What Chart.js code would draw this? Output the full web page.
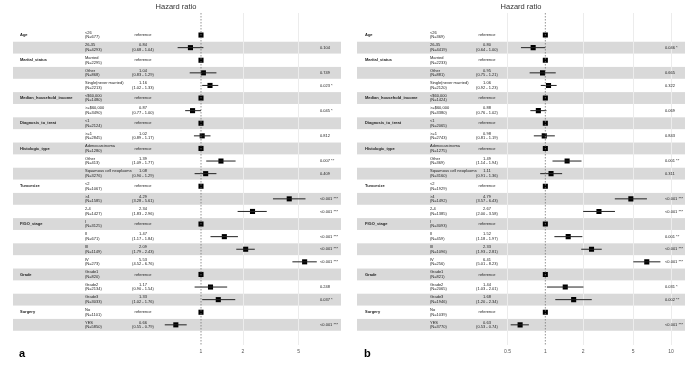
<!DOCTYPE html>
<html>
<head>
<meta charset="utf-8">
<script src="https://cdn.jsdelivr.net/npm/chart.js@4.4.0/dist/chart.umd.min.js"></script>
<style>
body { margin: 0; background: #fff; }
canvas { position: absolute; top: 0; }
</style>
</head>
<body>
<canvas id="chartA" width="342" height="366" style="left:0px"></canvas>
<canvas id="chartB" width="343" height="366" style="left:342px"></canvas>
<script>
// rows of the forest plot
const variables = ['Age', '', 'Marital_status', '', '', 'Median_household_income', '', 'Diagnosis_to_treat', '',
  'Histologic_type', '', '', 'Tumorsize', '', '', 'FIGO_stage', '', '', '', 'Grade', '', '', 'Surgery', ''];
const categories = ['<26', '26-35', 'Married', 'Other', 'Single(never married)', '<$60,000', '>=$60,000', '<1', '>=1',
  'Adenocarcinoma', 'Other', 'Squamous cell neoplasms', '<2', '>4', '2-4', 'I', 'II', 'III', 'IV',
  'Grade1', 'Grade2', 'Grade3', 'No', 'YES'];

// panel a
const countsA = [677, 4293, 2295, 868, 2213, 1480, 3490, 2124, 2845, 1280, 413, 3276, 1067, 1585, 1427,
  3125, 671, 1149, 273, 820, 2134, 3033, 1101, 5850];
const hrA = [1, 0.84, 1, 1.04, 1.16, 1, 0.87, 1, 1.02, 1, 1.39, 1.08, 1, 4.29, 2.34, 1, 1.47, 2.09, 5.53, 1, 1.17, 1.33, 1, 0.66];
const lowA = [null, 0.68, null, 0.83, 1.02, null, 0.77, null, 0.89, null, 1.09, 0.90, null, 3.28, 1.83,
  null, 1.17, 1.79, 4.52, null, 0.90, 1.02, null, 0.55];
const highA = [null, 1.04, null, 1.29, 1.33, null, 1.00, null, 1.17, null, 1.77, 1.29, null, 5.61, 2.96,
  null, 1.84, 2.43, 6.76, null, 1.54, 1.76, null, 0.79];
const pA = ['', '0.104', '', '0.749', '0.023 *', '', '0.045 *', '', '0.812', '', '0.007 **', '0.409', '', '<0.001 ***', '<0.001 ***',
  '', '<0.001 ***', '<0.001 ***', '<0.001 ***', '', '0.248', '0.037 *', '', '<0.001 ***'];
const ticksA = [1, 2, 5];

// panel b
const countsB = [369, 4419, 2233, 881, 2120, 1424, 3380, 2065, 2743, 1275, 369, 3160, 1929, 1492, 1385,
  3093, 459, 1096, 256, 821, 2065, 1946, 1039, 3770];
const hrB = [1, 0.80, 1, 0.95, 1.06, 1, 0.88, 1, 0.98, 1, 1.49, 1.11, 1, 4.79, 2.67, 1, 1.52, 2.33, 6.41, 1, 1.44, 1.68, 1, 0.63];
const lowB = [null, 0.64, null, 0.75, 0.92, null, 0.76, null, 0.81, null, 1.14, 0.91, null, 3.57, 2.00,
  null, 1.18, 1.93, 5.01, null, 1.03, 1.20, null, 0.53];
const highB = [null, 1.00, null, 1.21, 1.23, null, 1.02, null, 1.19, null, 1.94, 1.36, null, 6.43, 3.58,
  null, 1.97, 2.81, 8.23, null, 2.01, 2.34, null, 0.74];
const pB = ['', '0.046 *', '', '0.665', '0.322', '', '0.069', '', '0.843', '', '0.001 **', '0.311', '', '<0.001 ***', '<0.001 ***',
  '', '0.001 **', '<0.001 ***', '<0.001 ***', '', '0.031 *', '0.002 **', '', '<0.001 ***'];
const ticksB = [0.5, 1, 2, 5, 10];

const FONT = '"Liberation Sans Narrow", "Liberation Sans", Arial, sans-serif';
const Y_MIN = -1.75, Y_MAX = 24.6;

function fmt(v) { return v.toFixed(2); }

function makePanel(id, s) {
  const rows = categories.length;
  // whisker segments, broken by empty points
  const whiskers = [];
  for (let i = 0; i < rows; i++) {
    if (s.low[i] == null) continue;
    whiskers.push({ x: s.low[i], y: i }, { x: s.high[i], y: i }, { x: null, y: null });
  }
  const boxes = s.hr.map((v, i) => ({ x: v, y: i }));

  const tablePlugin = {
    id: 'table' + id,
    beforeDraw(chart) {
      const ctx = chart.ctx, y = chart.scales.y;
      ctx.save();
      ctx.fillStyle = '#d9d9d9';
      for (let i = 1; i < rows; i += 2) {
        const top = y.getPixelForValue(i - 0.47), bot = y.getPixelForValue(i + 0.47);
        ctx.fillRect(s.bandLeft, top, s.bandRight - s.bandLeft, bot - top);
      }
      ctx.restore();
    },
    afterDatasetsDraw(chart) {
      const ctx = chart.ctx, y = chart.scales.y;
      ctx.save();
      ctx.textBaseline = 'middle';
      for (let i = 0; i < rows; i++) {
        const cy = y.getPixelForValue(i);
        ctx.fillStyle = '#222';
        if (variables[i]) {
          ctx.font = 'bold 4px ' + FONT;
          ctx.textAlign = 'left';
          ctx.fillText(variables[i], s.colVar, cy);
        }
        ctx.font = '4px ' + FONT;
        ctx.textAlign = 'left';
        ctx.fillText(categories[i], s.colCat, cy - 2.3);
        ctx.fillText('(N=' + s.counts[i] + ')', s.colCat, cy + 2.3);
        ctx.textAlign = 'center';
        if (s.low[i] == null) {
          ctx.fillText('reference', s.colHr, cy);
        } else {
          ctx.fillText(fmt(s.hr[i]), s.colHr, cy - 2.3);
          ctx.fillText('(' + fmt(s.low[i]) + ' - ' + fmt(s.high[i]) + ')', s.colHr, cy + 2.3);
        }
        ctx.textAlign = 'left';
        ctx.fillText(s.p[i], s.colP, cy);
      }
      // title and panel letter
      ctx.fillStyle = '#333';
      ctx.font = '7.5px ' + FONT;
      ctx.textAlign = 'center';
      ctx.fillText('Hazard ratio', s.titleX, 7);
      ctx.fillStyle = '#000';
      ctx.font = 'bold 11px "Liberation Sans", Arial, sans-serif';
      ctx.textAlign = 'left';
      ctx.fillText(s.letter, s.colVar - 1, 354);
      ctx.restore();
    }
  };

  return new Chart(document.getElementById(id), {
    type: 'scatter',
    data: {
      datasets: [
        {
          data: [{ x: 1, y: Y_MIN }, { x: 1, y: Y_MAX }],
          showLine: true, pointRadius: 0, borderColor: '#777', borderWidth: 0.8, borderDash: [1.5, 1.5]
        },
        {
          data: whiskers,
          showLine: true, spanGaps: false, pointRadius: 0, borderColor: '#222', borderWidth: 1
        },
        {
          data: boxes,
          pointStyle: 'rect', pointRadius: 3.6, backgroundColor: '#000', borderColor: '#000', borderWidth: 0
        }
      ]
    },
    options: {
      responsive: false,
      animation: false,
      devicePixelRatio: 1,
      layout: { padding: { left: s.left, right: s.right, top: 13, bottom: 0 } },
      plugins: { legend: { display: false }, tooltip: { enabled: false } },
      scales: {
        x: {
          type: 'logarithmic',
          min: s.min, max: s.max,
          afterBuildTicks: (axis) => { axis.ticks = s.ticks.map(v => ({ value: v })); },
          afterFit: (axis) => { axis.height = 21; },
          ticks: {
            callback: (v) => String(v),
            color: '#555', font: { size: 5, family: FONT }, padding: 4, maxRotation: 0, autoSkip: false
          },
          grid: {
            color: (c) => (c.tick && c.tick.value === 1) ? 'rgba(0,0,0,0)' : '#ececec',
            drawTicks: false
          },
          border: { display: false }
        },
        y: { type: 'linear', reverse: true, min: Y_MIN, max: Y_MAX, display: false }
      }
    },
    plugins: [tablePlugin]
  });
}

makePanel('chartA', {
  counts: countsA, hr: hrA, low: lowA, high: highA, p: pA, ticks: ticksA,
  min: 0.5, max: 8, left: 159, right: 15,
  bandLeft: 13, bandRight: 341,
  colVar: 20, colCat: 85, colHr: 143, colP: 320, titleX: 176, letter: 'a'
});
makePanel('chartB', {
  counts: countsB, hr: hrB, low: lowB, high: highB, p: pB, ticks: ticksB,
  min: 0.5, max: 12, left: 165.5, right: 1,
  bandLeft: 15, bandRight: 343,
  colVar: 23, colCat: 88, colHr: 145, colP: 323, titleX: 179, letter: 'b'
});
</script>
</body>
</html>
